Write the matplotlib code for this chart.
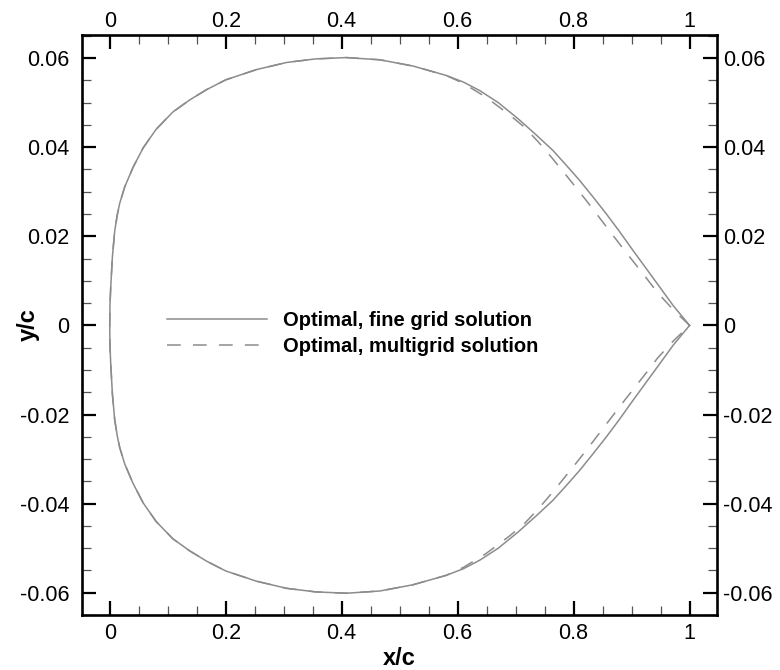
import numpy as np
import matplotlib
matplotlib.use("Agg")
import matplotlib.pyplot as plt
import matplotlib.transforms as mtransforms
from matplotlib.ticker import MultipleLocator, FixedLocator, FuncFormatter

# fine grid solution (x/c, y/c), read from upper and lower surface
fine_x = [0.0, 0.0004, 0.0017, 0.0046, 0.0086, 0.013, 0.0172, 0.0259, 0.040, 0.0575,
          0.080, 0.109, 0.138, 0.167, 0.200, 0.253, 0.305, 0.355, 0.408, 0.466,
          0.523, 0.580, 0.610, 0.638, 0.670, 0.704, 0.735, 0.764, 0.787, 0.810,
          0.833, 0.856, 0.879, 0.902, 0.925, 0.948, 0.972, 1.0]
fine_up = [0.0, 0.0045, 0.0085, 0.0154, 0.0212, 0.0248, 0.0274, 0.0311, 0.0354, 0.0398,
           0.0440, 0.0479, 0.0506, 0.0529, 0.0551, 0.0574, 0.0590, 0.0598, 0.0601, 0.0596,
           0.0582, 0.0561, 0.0546, 0.0527, 0.0500, 0.0464, 0.0428, 0.0393, 0.0360, 0.0326,
           0.0289, 0.0251, 0.0211, 0.0169, 0.0128, 0.0087, 0.0044, 0.0]
fine_lo = [0.0, -0.0045, -0.0085, -0.0154, -0.0212, -0.0248, -0.0274, -0.0311, -0.0354, -0.0398,
           -0.0440, -0.0479, -0.0506, -0.0529, -0.0551, -0.0574, -0.0590, -0.0598, -0.0601, -0.0596,
           -0.0582, -0.0561, -0.0546, -0.0527, -0.0500, -0.0464, -0.0428, -0.0393, -0.0360, -0.0326,
           -0.0289, -0.0251, -0.0211, -0.0169, -0.0128, -0.0087, -0.0044, 0.0]

# multigrid solution
mg_x = [0.0, 0.0004, 0.0017, 0.0046, 0.0086, 0.013, 0.0172, 0.0259, 0.040, 0.0575,
        0.080, 0.109, 0.138, 0.167, 0.200, 0.253, 0.305, 0.355, 0.408, 0.466,
        0.523, 0.580, 0.610, 0.649, 0.690, 0.715, 0.739, 0.762, 0.784, 0.805,
        0.825, 0.845, 0.865, 0.885, 0.905, 0.925, 0.945, 0.972, 1.0]
mg_up = [0.0, 0.0045, 0.0085, 0.0154, 0.0212, 0.0248, 0.0274, 0.0311, 0.0354, 0.0398,
         0.0440, 0.0479, 0.0506, 0.0529, 0.0551, 0.0574, 0.0590, 0.0598, 0.0601, 0.0596,
         0.0582, 0.0561, 0.0543, 0.0512, 0.0472, 0.0445, 0.0412, 0.0377, 0.0342, 0.0308,
         0.0275, 0.0241, 0.0207, 0.0173, 0.0140, 0.0107, 0.0073, 0.0035, 0.0]
mg_lo = [0.0, -0.0045, -0.0085, -0.0154, -0.0212, -0.0248, -0.0274, -0.0311, -0.0354, -0.0398,
         -0.0440, -0.0479, -0.0506, -0.0529, -0.0551, -0.0574, -0.0590, -0.0598, -0.0601, -0.0596,
         -0.0582, -0.0561, -0.0543, -0.0512, -0.0472, -0.0445, -0.0412, -0.0377, -0.0342, -0.0308,
         -0.0275, -0.0241, -0.0207, -0.0173, -0.0140, -0.0107, -0.0073, -0.0035, 0.0]

xticks = [0, 0.2, 0.4, 0.6, 0.8, 1.0]
yticks = [-0.06, -0.04, -0.02, 0, 0.02, 0.04, 0.06]
labels = ["Optimal, fine grid solution", "Optimal, multigrid solution"]

plt.rcParams['font.family'] = ['Liberation Sans', 'DejaVu Sans']

fig = plt.figure(figsize=(7.8, 6.7), dpi=100)
ax = fig.add_axes([0.105, 0.082, 0.814, 0.866])

# closed outline: trailing edge -> upper -> leading edge -> lower -> trailing edge
fx = fine_x[::-1] + fine_x[1:]
fy = fine_up[::-1] + fine_lo[1:]
mx = mg_x[::-1] + mg_x[1:]
my = mg_up[::-1] + mg_lo[1:]

ax.plot(fx, fy, color='#8c8c8c', lw=1.1, label=labels[0])
ax.plot(mx, my, color='#8c8c8c', lw=1.1, dashes=(9, 8), label=labels[1])

ax.set_xlim(-0.048, 1.047)
ax.set_ylim(-0.065, 0.0652)

fmt = FuncFormatter(lambda v, p: ('%g' % round(v, 4)) if abs(v) > 1e-9 else '0')
ax.xaxis.set_major_locator(FixedLocator(xticks))
ax.xaxis.set_minor_locator(MultipleLocator(0.05))
ax.yaxis.set_major_locator(FixedLocator(yticks))
ax.yaxis.set_minor_locator(MultipleLocator(0.005))
ax.xaxis.set_major_formatter(fmt)
ax.yaxis.set_major_formatter(fmt)

ax.tick_params(which='both', direction='in', top=True, right=True,
               labeltop=True, labelright=True, labelsize=15.5)
ax.tick_params(axis='x', pad=6)
ax.tick_params(axis='y', pad=9)
ax.tick_params(which='major', length=10, width=1.6)
ax.tick_params(which='minor', length=6.5, width=0.9, color='#555555')
for s in ax.spines.values():
    s.set_linewidth(1.9)

# top labels sit closer to the frame than bottom ones, right closer than left
down = mtransforms.ScaledTranslation(0, -4 / 72, fig.dpi_scale_trans)
left = mtransforms.ScaledTranslation(-4.5 / 72, 0, fig.dpi_scale_trans)
for t in ax.xaxis.get_major_ticks():
    t.label2.set_transform(t.label2.get_transform() + down)
for t in ax.yaxis.get_major_ticks():
    t.label2.set_transform(t.label2.get_transform() + left)

ax.set_xlabel('x/c', fontsize=17, fontweight='bold', labelpad=2)
ax.set_ylabel('y/c', fontsize=17, fontweight='bold')
ax.yaxis.set_label_coords(-0.066, 0.5)

ax.legend(loc='center left', bbox_to_anchor=(0.105, 0.486), frameon=False,
          handlelength=5.0, handletextpad=0.8, labelspacing=0.35,
          prop={'size': 14.5, 'weight': 'bold'})

fig.savefig('out.png', dpi=100)
